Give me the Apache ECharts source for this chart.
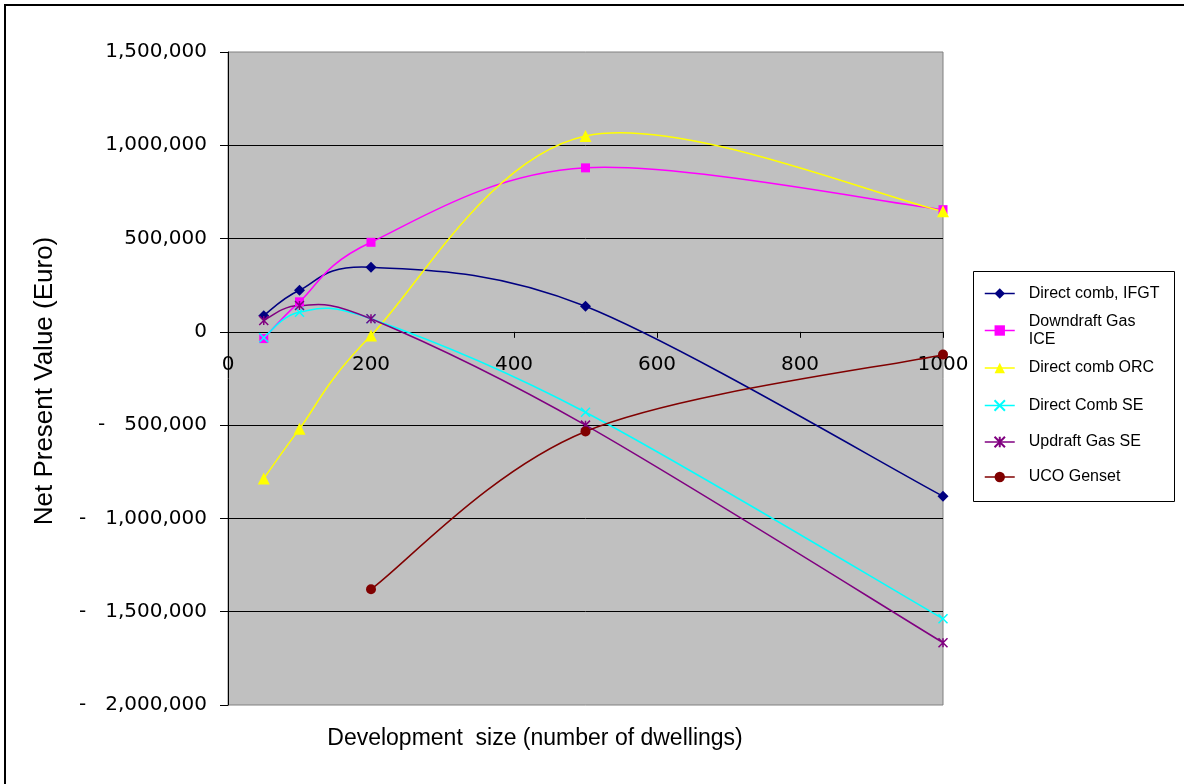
<!DOCTYPE html>
<html>
<head>
<meta charset="utf-8">
<title>Net Present Value by Development Size</title>
<script src="https://cdn.jsdelivr.net/npm/echarts@6/dist/echarts.min.js"></script>
<style>
  html, body { margin: 0; padding: 0; background: #ffffff; }
  #chart { width: 1184px; height: 784px; }
</style>
</head>
<body>
<div id="chart"></div>
<script>
// Development sizes (number of dwellings)
const sizes = [50, 100, 200, 500, 1000];

// Net present value (Euro) per technology
const directCombIFGT = [87000, 223000, 346000, 137000, -881000];
const downdraftGasICE = [-36000, 161000, 480000, 879000, 655000];
const directCombORC = [-786000, -520000, -20000, 1050000, 646000];
const directCombSE = [-32000, 105000, 70000, -431000, -1538000];
const updraftGasSE = [61000, 141000, 70000, -500000, -1666000];
const ucoGenset = [null, null, -1380000, -534000, -122000];

const seriesNames = [
  'Direct comb, IFGT',
  'Downdraft Gas ICE',
  'Direct comb ORC',
  'Direct Comb SE',
  'Updraft Gas SE',
  'UCO Genset'
];

// Axis ticks
const xTicks = { min: 0, max: 1000, step: 200 };
const yTicks = { min: -2000000, max: 1500000, step: 500000 };

const FONT = '"Liberation Sans", Arial, sans-serif';
const NUM_FONT = '"DejaVu Sans", sans-serif';

// Plot area
const GRID = { left: 228, right: 241, top: 52, bottom: 79 };
const CHART_H = 784;
const gridHeight = CHART_H - GRID.top - GRID.bottom;
// The x axis sits on the zero line of the value axis
const xAxisOffset = -gridHeight * (0 - yTicks.min) / (yTicks.max - yTicks.min);

function pairs(values) {
  const out = [];
  values.forEach((v, i) => { if (v !== null) out.push([sizes[i], v]); });
  return out;
}

function withCommas(n) {
  return String(n).replace(/\B(?=(\d{3})+(?!\d))/g, ',');
}

const crossPath = 'path://M0,0L10,10M10,0L0,10';
const starPath = 'path://M0,0L10,10M10,0L0,10M5,0L5,10';

// Smoothed connecting line: cubic Bezier segments through each point,
// tangents taken from the neighbouring points (1/6 rule).
function curveSeries(points, color) {
  return {
    type: 'custom',
    coordinateSystem: 'cartesian2d',
    silent: true,
    clip: true,
    data: points,
    encode: { x: 0, y: 1 },
    renderItem: function (params, api) {
      const i = params.dataIndex;
      const n = points.length;
      if (i >= n - 1) return { type: 'group', children: [] };
      const at = k => api.coord(points[Math.max(0, Math.min(n - 1, k))]);
      const p0 = at(i - 1), p1 = at(i), p2 = at(i + 1), p3 = at(i + 2);
      return {
        type: 'bezierCurve',
        shape: {
          x1: p1[0], y1: p1[1],
          x2: p2[0], y2: p2[1],
          cpx1: p1[0] + (p2[0] - p0[0]) / 6,
          cpy1: p1[1] + (p2[1] - p0[1]) / 6,
          cpx2: p2[0] - (p3[0] - p1[0]) / 6,
          cpy2: p2[1] - (p3[1] - p1[1]) / 6
        },
        style: { stroke: color, lineWidth: 1.5, fill: null }
      };
    }
  };
}

// Markers for each data point (the line itself is drawn by curveSeries)
function markerSeries(name, points, color, symbol, size, stroked) {
  return {
    name: name,
    type: 'line',
    data: points,
    symbol: symbol,
    symbolSize: size,
    showAllSymbol: true,
    lineStyle: { color: color, width: 1.5, opacity: 0 },
    itemStyle: stroked
      ? { color: color, borderColor: color, borderWidth: 1.5 }
      : { color: color, borderWidth: 0 },
    emphasis: { disabled: true }
  };
}

const colors = ['#000080', '#FF00FF', '#FFFF00', '#00FFFF', '#800080', '#800000'];
const symbols = ['diamond', 'rect', 'triangle', crossPath, starPath, 'circle'];
const symbolSizes = [11, 9, 12, 9, 9, 10];
const strokedSymbols = [false, false, false, true, true, false];
const allValues = [directCombIFGT, downdraftGasICE, directCombORC, directCombSE, updraftGasSE, ucoGenset];

const series = [];
allValues.forEach((vals, k) => {
  const pts = pairs(vals);
  series.push(curveSeries(pts, colors[k]));
  series.push(markerSeries(seriesNames[k], pts, colors[k], symbols[k], symbolSizes[k], strokedSymbols[k]));
});

// Legend entries, one block each so the two-line entry keeps the even row pitch
const legendTops = [284.5, 312.5, 359, 396.5, 433, 468];
const legends = seriesNames.map((name, k) => ({
  orient: 'vertical',
  left: 984,
  top: legendTops[k],
  padding: 0,
  itemWidth: 30,
  itemHeight: 13,
  selectedMode: false,
  data: [{ name: name, lineStyle: { color: colors[k], width: 1.5, opacity: 1 } }],
  formatter: function (nm) {
    return nm === 'Downdraft Gas ICE' ? 'Downdraft Gas\nICE' : nm;
  },
  textStyle: { color: '#000000', fontFamily: FONT, fontSize: 16, lineHeight: 18, padding: [0, 0, 0, 9] }
}));

const chart = echarts.init(document.getElementById('chart'), null, { renderer: 'canvas' });

chart.setOption({
  animation: false,
  backgroundColor: '#ffffff',
  grid: {
    left: GRID.left, right: GRID.right, top: GRID.top, bottom: GRID.bottom,
    show: true,
    backgroundColor: '#C0C0C0',
    borderColor: '#808080',
    borderWidth: 1
  },
  xAxis: {
    type: 'value',
    position: 'bottom',
    offset: xAxisOffset,
    min: xTicks.min, max: xTicks.max, interval: xTicks.step,
    axisLine: { show: true, onZero: false, lineStyle: { color: '#000000', width: 1 } },
    axisTick: { show: true, length: 6, lineStyle: { color: '#000000', width: 1 } },
    axisLabel: {
      show: true, margin: 23, color: '#000000', fontFamily: NUM_FONT, fontSize: 20,
      formatter: function (v) { return String(v); }
    },
    splitLine: { show: false }
  },
  yAxis: {
    type: 'value',
    min: yTicks.min, max: yTicks.max, interval: yTicks.step,
    axisLine: { show: true, onZero: false, lineStyle: { color: '#000000', width: 1 } },
    axisTick: { show: true, length: 8, lineStyle: { color: '#000000', width: 1 } },
    axisLabel: {
      show: true, margin: 21, color: '#000000', fontFamily: NUM_FONT, fontSize: 20,
      formatter: function (v) {
        const s = withCommas(Math.abs(v));
        return v < 0 ? '-   ' + s : s;
      }
    },
    splitLine: { show: true, showMinLine: false, showMaxLine: false, lineStyle: { color: '#000000', width: 1 } }
  },
  legend: legends,
  graphic: [
    {
      type: 'rect', z: 0, silent: true,
      shape: { x: 5, y: 5, width: 1250, height: 850 },
      style: { fill: 'none', stroke: '#000000', lineWidth: 2 }
    },
    {
      type: 'rect', z: 0, silent: true,
      shape: { x: 973.5, y: 271.5, width: 201, height: 230 },
      style: { fill: '#ffffff', stroke: '#000000', lineWidth: 1 }
    },
    {
      type: 'text', silent: true,
      x: 45, y: 381, rotation: Math.PI / 2,
      style: {
        text: 'Net Present Value (Euro)',
        font: '26px ' + FONT,
        fill: '#000000',
        align: 'center', verticalAlign: 'middle',
        textAlign: 'center', textVerticalAlign: 'middle'
      }
    },
    {
      type: 'text', silent: true,
      x: 535, y: 739,
      style: {
        text: 'Development  size (number of dwellings)',
        font: '23px ' + FONT,
        fill: '#000000',
        align: 'center', verticalAlign: 'middle',
        textAlign: 'center', textVerticalAlign: 'middle'
      }
    }
  ],
  series: series
});
</script>
</body>
</html>
